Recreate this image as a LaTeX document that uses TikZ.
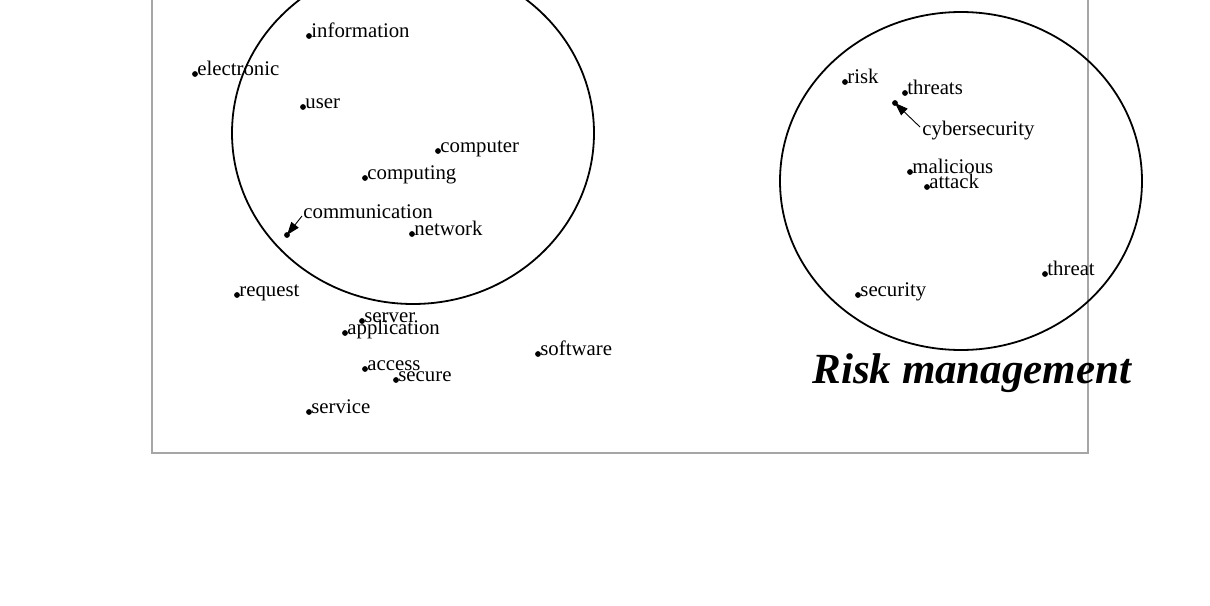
\documentclass[tikz,border=0pt]{standalone}
\usepackage{fontspec}
\setmainfont{Liberation Serif}
\usetikzlibrary{arrows.meta,calc}
\begin{document}
\begin{tikzpicture}[x=0.5pt,y=-0.5pt,
  dot/.style={circle,fill=black,inner sep=0pt,minimum size=2.9pt},
  word/.style={anchor=base west,inner sep=0pt,font=\fontsize{10.4}{12}\selectfont},
  ring/.style={draw=black,line width=0.9pt},
  pointer/.style={draw=black,line width=0.45pt,-{Triangle[length=6.5pt,width=4.6pt]}},
  frame/.style={draw=black!35,line width=0.7pt}]
\useasboundingbox (0,0) rectangle (1210,605);
\clip (0,0) rectangle (1210,605);
\fill[white] (0,0) rectangle (1210,605);
\draw[frame] (152,-10) rectangle (1088,453);
\draw[ring] (413,133) ellipse [x radius=181, y radius=171];
\draw[ring] (961,181) ellipse [x radius=181, y radius=169];
% left cluster
\node[dot] (information) at (309,36) {};
\node[word] (tinformation) at (311,37) {information};
\node[dot] (electronic) at (195,74) {};
\node[word] (telectronic) at (197,75) {electronic};
\node[dot] (user) at (303,107) {};
\node[word] (tuser) at (305,108) {user};
\node[dot] (computer) at (438,151) {};
\node[word] (tcomputer) at (440,152) {computer};
\node[dot] (computing) at (365,178) {};
\node[word] (tcomputing) at (367,179) {computing};
\node[dot] (communication) at (287,235) {};
\node[word] (tcommunication) at (303,218) {communication};
\node[dot] (network) at (412,234) {};
\node[word] (tnetwork) at (414,235) {network};
\node[dot] (request) at (237,295) {};
\node[word] (trequest) at (239,296) {request};
\node[dot] (server) at (362,321) {};
\node[word] (tserver) at (364,322) {server};
\node[dot] (application) at (345,333) {};
\node[word] (tapplication) at (347,334) {application};
\node[dot] (software) at (538,354) {};
\node[word] (tsoftware) at (540,355) {software};
\node[dot] (access) at (365,369) {};
\node[word] (taccess) at (367,370) {access};
\node[dot] (secure) at (396,380) {};
\node[word] (tsecure) at (398,381) {secure};
\node[dot] (service) at (309,412) {};
\node[word] (tservice) at (311,413) {service};
% right cluster
\node[dot] (risk) at (845,82) {};
\node[word] (trisk) at (847,83) {risk};
\node[dot] (threats) at (905,93) {};
\node[word] (tthreats) at (907,94) {threats};
\node[dot] (cybersecurity) at (895,103) {};
\node[word] (tcybersecurity) at (922,135) {cybersecurity};
\node[dot] (malicious) at (910,172) {};
\node[word] (tmalicious) at (912,173) {malicious};
\node[dot] (attack) at (927,187) {};
\node[word] (tattack) at (929,188) {attack};
\node[dot] (threat) at (1045,274) {};
\node[word] (tthreat) at (1047,275) {threat};
\node[dot] (security) at (858,295) {};
\node[word] (tsecurity) at (860,296) {security};
% pointers
\coordinate (c1) at (302,216);
\draw[pointer] (c1) -- (communication.center);
\coordinate (c2) at (920,127);
\draw[pointer] (c2) -- (cybersecurity.center);
% title
\node[anchor=base west,inner sep=0pt,font=\fontsize{21.5}{24}\selectfont\bfseries\itshape] (title) at (812,383) {Risk management};
\end{tikzpicture}
\end{document}
